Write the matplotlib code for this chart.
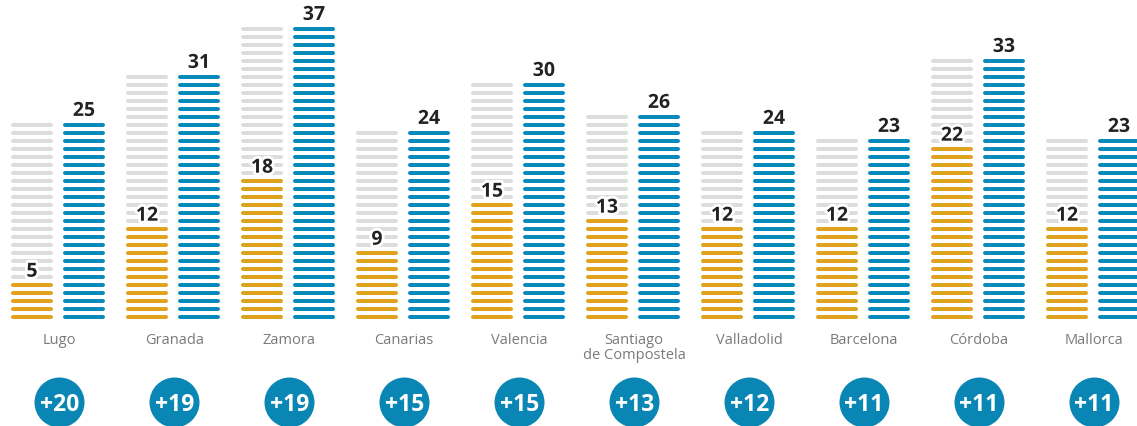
import matplotlib
matplotlib.use("Agg")
import matplotlib.pyplot as plt
import matplotlib.patheffects as pe
from matplotlib.collections import LineCollection

categories = ["Lugo", "Granada", "Zamora", "Canarias", "Valencia",
              "Santiago\nde Compostela", "Valladolid", "Barcelona", "Córdoba", "Mallorca"]
before = [5, 12, 18, 9, 15, 13, 12, 12, 22, 12]
after = [25, 31, 37, 24, 30, 26, 24, 23, 33, 23]
diff_labels = ["+20", "+19", "+19", "+15", "+15", "+13", "+12", "+11", "+11", "+11"]

BLUE = "#0a8abb"
ORANGE = "#dea21c"
GREY = "#dddddd"
CIRCLE = "#0a86b4"
FONT = ["Open Sans", "DejaVu Sans"]

W, H = 1137, 426
fig = plt.figure(figsize=(W / 100, H / 100), dpi=100)
ax = fig.add_axes([0, 0, 1, 1])
ax.set_axis_off()

PX_X = 115.0  # pixels per group
PX_Y = 8.0    # pixels per unit
x0_px = 58.0
ax.set_xlim(-x0_px / PX_X, (W - x0_px) / PX_X)
base_px = 109.3
ax.set_ylim(1 - base_px / PX_Y, 1 + (H - base_px) / PX_Y)

lw_pt = 4 * 72 / 100
cap = 2.0 / PX_X
gl, gr = (11 - x0_px) / PX_X, (53 - x0_px) / PX_X
bl, br = (63 - x0_px) / PX_X, (105 - x0_px) / PX_X

segs, cols = [], []
for i, (b, a) in enumerate(zip(before, after)):
    for k in range(1, a + 1):
        segs.append([(i + gl + cap, k), (i + gr - cap, k)])
        cols.append(ORANGE if k <= b else GREY)
        segs.append([(i + bl + cap, k), (i + br - cap, k)])
        cols.append(BLUE)
lc = LineCollection(segs, colors=cols, linewidths=lw_pt, capstyle="round")
ax.add_collection(lc)

halo = [pe.withStroke(linewidth=4, foreground="white")]
num_font = dict(family=FONT, fontsize=14, fontweight="bold", color="#222222")
for i, (b, a) in enumerate(zip(before, after)):
    ax.text(i + (gl + gr) / 2, b + 1.0, str(b), ha="center", va="baseline",
            path_effects=halo, zorder=5, **num_font)
    ax.text(i + (bl + br) / 2, a + 1.1, str(a), ha="center", va="baseline",
            path_effects=halo, zorder=5, **num_font)

label_y = 1 + ((H - 340) - base_px) / PX_Y
for i, c in enumerate(categories):
    if "\n" in c:
        ax.text(i + 0.01, label_y + 0.85, c, ha="center", va="top", fontsize=10.5,
                color="#7a7a7a", family=FONT, linespacing=1.0)
    else:
        ax.text(i + 0.01, label_y, c, ha="center", va="center", fontsize=10.5,
                color="#7a7a7a", family=FONT)

circ_y = 1 + ((H - 402) - base_px) / PX_Y
xs = [i + 0.01 for i in range(len(categories))]
ax.scatter(xs, [circ_y] * len(xs), s=(50 * 0.72) ** 2, color=CIRCLE, zorder=3, linewidths=0)
for x, d in zip(xs, diff_labels):
    ax.text(x, circ_y, d, ha="center", va="center_baseline", fontsize=16.5, fontweight="bold",
            color="white", family=FONT, zorder=4)

fig.savefig("out.png", dpi=100)
